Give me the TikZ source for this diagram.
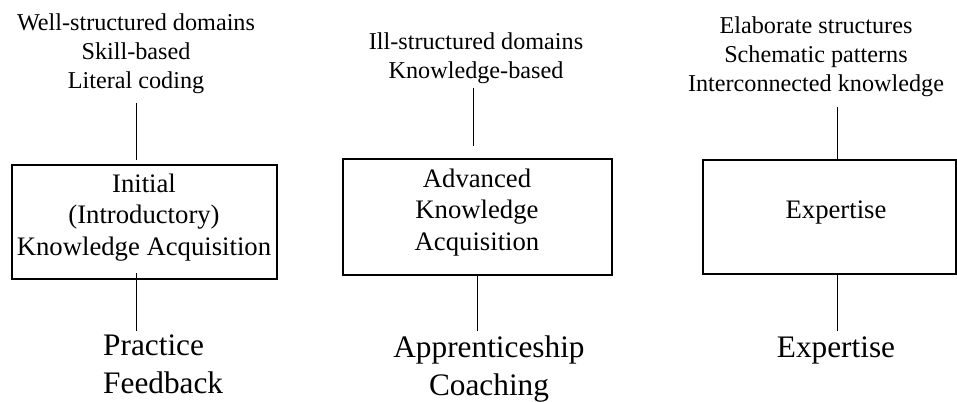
\documentclass[tikz,border=0pt]{standalone}
\usepackage{fontspec}
\setmainfont{Liberation Serif}
\begin{document}
\begin{tikzpicture}[x=1pt,y=-1pt,
  lbl/.style={inner sep=0pt, align=center, font=\fontsize{24.2}{29}\selectfont, anchor=base},
  boxtxt/.style={inner sep=0pt, align=center, font=\fontsize{26.7}{31.3}\selectfont, anchor=base},
  big/.style={inner sep=0pt, align=center, font=\fontsize{31.3}{37.5}\selectfont, anchor=base},
  stagebox/.style={draw, line width=2pt, inner sep=0pt, outer sep=0pt},
  link/.style={line width=1pt}]
\useasboundingbox (0,0) rectangle (957,401);

% boxes
\node[stagebox, minimum width=265pt, minimum height=114pt] (s1) at (144.5,222) {};
\node[stagebox, minimum width=269pt, minimum height=116pt] (s2) at (477.5,217) {};
\node[stagebox, minimum width=253pt, minimum height=114pt] (s3) at (829.5,217) {};

% box texts (anchor base = baseline of last line)
\node[boxtxt] (k1) at (144,255) {Initial\\(Introductory)\\Knowledge Acquisition};
\node[boxtxt] (k2) at (477,250) {Advanced\\Knowledge\\Acquisition};
\node[boxtxt] (k3) at (836,218) {Expertise};

% top labels
\node[lbl] (t1) at (136,88.5) {Well-structured domains\\Skill-based\\Literal coding};
\node[lbl] (t2) at (476,79) {Ill-structured domains\\Knowledge-based};
\node[lbl] (t3) at (816,92) {Elaborate structures\\Schematic patterns\\Interconnected knowledge};

% bottom labels
\node[big, align=left, anchor=base west] (b1) at (103,393) {Practice\\Feedback};
\node[big] (b2) at (489,395) {Apprenticeship\\Coaching};
\node[big] (b3) at (836,357) {Expertise};

% connector ends
\coordinate (u1a) at (136,103); \coordinate (u1b) at (136,160);
\coordinate (d1a) at (136,273); \coordinate (d1b) at (136,331);
\coordinate (u2a) at (473,88);  \coordinate (u2b) at (473,146);
\coordinate (d2a) at (477,275); \coordinate (d2b) at (477,331);
\coordinate (u3a) at (837,107); \coordinate (u3b) at (837,159);
\coordinate (d3a) at (837,274); \coordinate (d3b) at (837,331);

\draw[link] (u1a) -- (u1b);
\draw[link] (d1a) -- (d1b);
\draw[link] (u2a) -- (u2b);
\draw[link] (d2a) -- (d2b);
\draw[link] (u3a) -- (u3b);
\draw[link] (d3a) -- (d3b);
\end{tikzpicture}
\end{document}
